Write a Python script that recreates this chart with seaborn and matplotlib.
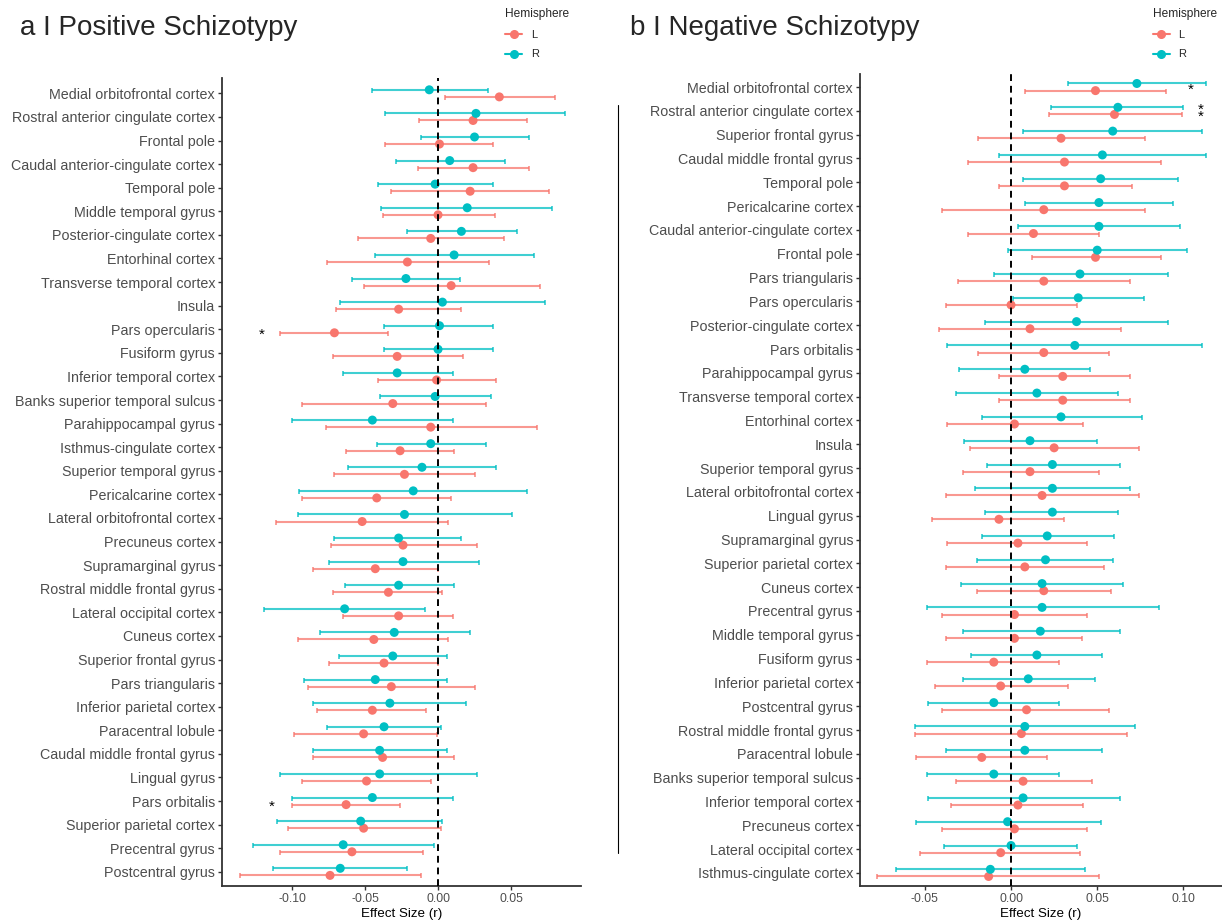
import numpy as np
import pandas as pd
import matplotlib
matplotlib.use("Agg")
import matplotlib.pyplot as plt
from matplotlib.lines import Line2D
import seaborn as sns

# ---- data: positive schizotypy (top -> bottom) ----
pos_regions = ["Medial orbitofrontal cortex", "Rostral anterior cingulate cortex", "Frontal pole",
               "Caudal anterior-cingulate cortex", "Temporal pole", "Middle temporal gyrus",
               "Posterior-cingulate cortex", "Entorhinal cortex", "Transverse temporal cortex", "Insula",
               "Pars opercularis", "Fusiform gyrus", "Inferior temporal cortex",
               "Banks superior temporal sulcus", "Parahippocampal gyrus", "Isthmus-cingulate cortex",
               "Superior temporal gyrus", "Pericalcarine cortex", "Lateral orbitofrontal cortex",
               "Precuneus cortex", "Supramarginal gyrus", "Rostral middle frontal gyrus",
               "Lateral occipital cortex", "Cuneus cortex", "Superior frontal gyrus", "Pars triangularis",
               "Inferior parietal cortex", "Paracentral lobule", "Caudal middle frontal gyrus",
               "Lingual gyrus", "Pars orbitalis", "Superior parietal cortex", "Precentral gyrus",
               "Postcentral gyrus"]
pos_L_est = [0.042, 0.024, 0.001, 0.024, 0.022, 0.000, -0.005, -0.021, 0.009, -0.027,
             -0.071, -0.028, -0.001, -0.031, -0.005, -0.026, -0.023, -0.042, -0.052, -0.024,
             -0.043, -0.034, -0.027, -0.044, -0.037, -0.032, -0.045, -0.051, -0.038, -0.049,
             -0.063, -0.051, -0.059, -0.074]
pos_L_lo = [0.005, -0.013, -0.036, -0.014, -0.032, -0.038, -0.055, -0.076, -0.051, -0.070,
            -0.108, -0.072, -0.041, -0.093, -0.077, -0.063, -0.071, -0.093, -0.111, -0.073,
            -0.086, -0.072, -0.065, -0.096, -0.075, -0.089, -0.083, -0.099, -0.086, -0.093,
            -0.100, -0.103, -0.108, -0.136]
pos_L_hi = [0.080, 0.061, 0.038, 0.062, 0.076, 0.039, 0.045, 0.035, 0.070, 0.016,
            -0.034, 0.017, 0.040, 0.033, 0.068, 0.011, 0.025, 0.009, 0.007, 0.027,
            0.000, 0.003, 0.010, 0.007, 0.000, 0.025, -0.008, -0.001, 0.011, -0.005,
            -0.026, 0.002, -0.010, -0.012]
pos_R_est = [-0.006, 0.026, 0.025, 0.008, -0.002, 0.020, 0.016, 0.011, -0.022, 0.003,
             0.001, 0.000, -0.028, -0.002, -0.045, -0.005, -0.011, -0.017, -0.023, -0.027,
             -0.024, -0.027, -0.064, -0.030, -0.031, -0.043, -0.033, -0.037, -0.040, -0.040,
             -0.045, -0.053, -0.065, -0.067]
pos_R_lo = [-0.045, -0.036, -0.012, -0.029, -0.041, -0.039, -0.021, -0.043, -0.059, -0.067,
            -0.037, -0.037, -0.065, -0.040, -0.100, -0.042, -0.062, -0.095, -0.096, -0.071,
            -0.075, -0.064, -0.119, -0.081, -0.068, -0.092, -0.086, -0.076, -0.086, -0.108,
            -0.100, -0.110, -0.127, -0.113]
pos_R_hi = [0.034, 0.087, 0.062, 0.046, 0.038, 0.078, 0.054, 0.066, 0.015, 0.073,
            0.038, 0.038, 0.010, 0.036, 0.010, 0.033, 0.040, 0.061, 0.051, 0.016,
            0.028, 0.011, -0.009, 0.022, 0.006, 0.006, 0.019, 0.002, 0.006, 0.027,
            0.010, 0.003, -0.003, -0.021]
pos_stars = [("Pars opercularis", "L", -0.121), ("Pars orbitalis", "L", -0.114)]

# ---- data: negative schizotypy (top -> bottom) ----
neg_regions = ["Medial orbitofrontal cortex", "Rostral anterior cingulate cortex", "Superior frontal gyrus",
               "Caudal middle frontal gyrus", "Temporal pole", "Pericalcarine cortex",
               "Caudal anterior-cingulate cortex", "Frontal pole", "Pars triangularis", "Pars opercularis",
               "Posterior-cingulate cortex", "Pars orbitalis", "Parahippocampal gyrus",
               "Transverse temporal cortex", "Entorhinal cortex", "Insula", "Superior temporal gyrus",
               "Lateral orbitofrontal cortex", "Lingual gyrus", "Supramarginal gyrus",
               "Superior parietal cortex", "Cuneus cortex", "Precentral gyrus", "Middle temporal gyrus",
               "Fusiform gyrus", "Inferior parietal cortex", "Postcentral gyrus",
               "Rostral middle frontal gyrus", "Paracentral lobule", "Banks superior temporal sulcus",
               "Inferior temporal cortex", "Precuneus cortex", "Lateral occipital cortex",
               "Isthmus-cingulate cortex"]
neg_L_est = [0.049, 0.060, 0.029, 0.031, 0.031, 0.019, 0.013, 0.049, 0.019, 0.000,
             0.011, 0.019, 0.030, 0.030, 0.002, 0.025, 0.011, 0.018, -0.007, 0.004,
             0.008, 0.019, 0.002, 0.002, -0.010, -0.006, 0.009, 0.006, -0.017, 0.007,
             0.004, 0.002, -0.006, -0.013]
neg_L_lo = [0.008, 0.022, -0.019, -0.025, -0.007, -0.040, -0.025, 0.012, -0.031, -0.038,
            -0.042, -0.019, -0.007, -0.007, -0.037, -0.024, -0.028, -0.038, -0.046, -0.037,
            -0.038, -0.020, -0.040, -0.038, -0.049, -0.044, -0.040, -0.056, -0.055, -0.032,
            -0.035, -0.040, -0.053, -0.078]
neg_L_hi = [0.090, 0.099, 0.078, 0.087, 0.070, 0.078, 0.051, 0.087, 0.069, 0.038,
            0.064, 0.057, 0.069, 0.069, 0.042, 0.074, 0.051, 0.074, 0.031, 0.044,
            0.054, 0.058, 0.044, 0.041, 0.028, 0.033, 0.057, 0.067, 0.021, 0.047,
            0.042, 0.044, 0.040, 0.051]
neg_R_est = [0.073, 0.062, 0.059, 0.053, 0.052, 0.051, 0.051, 0.050, 0.040, 0.039,
             0.038, 0.037, 0.008, 0.015, 0.029, 0.011, 0.024, 0.024, 0.024, 0.021,
             0.020, 0.018, 0.018, 0.017, 0.015, 0.010, -0.010, 0.008, 0.008, -0.010,
             0.007, -0.002, 0.000, -0.012]
neg_R_lo = [0.033, 0.023, 0.007, -0.007, 0.007, 0.008, 0.004, -0.002, -0.010, 0.001,
            -0.015, -0.037, -0.030, -0.032, -0.017, -0.027, -0.014, -0.021, -0.015, -0.017,
            -0.020, -0.029, -0.049, -0.028, -0.023, -0.028, -0.048, -0.056, -0.038, -0.049,
            -0.048, -0.055, -0.039, -0.067]
neg_R_hi = [0.113, 0.100, 0.111, 0.113, 0.097, 0.094, 0.098, 0.102, 0.091, 0.077,
            0.091, 0.111, 0.046, 0.062, 0.076, 0.050, 0.063, 0.069, 0.062, 0.060,
            0.059, 0.065, 0.086, 0.063, 0.053, 0.049, 0.028, 0.072, 0.053, 0.028,
            0.063, 0.052, 0.038, 0.043]
neg_stars = [("Medial orbitofrontal cortex", "M", 0.104),
             ("Rostral anterior cingulate cortex", "R", 0.110),
             ("Rostral anterior cingulate cortex", "L", 0.110)]

palette = {"L": "#F8766D", "R": "#00BFC4"}
offset = {"R": -0.15, "L": 0.15, "M": 0.03}

sns.set_style("ticks")
plt.rcParams["font.family"] = ["Liberation Sans", "DejaVu Sans"]
plt.rcParams["axes.unicode_minus"] = False


def make_df(regions, l_est, l_lo, l_hi, r_est, r_lo, r_hi):
    rows = []
    for i, reg in enumerate(regions):
        rows.append((reg, i, "L", l_est[i], l_lo[i], l_hi[i]))
        rows.append((reg, i, "R", r_est[i], r_lo[i], r_hi[i]))
    df = pd.DataFrame(rows, columns=["region", "idx", "hemi", "est", "lo", "hi"])
    df["y"] = df["idx"] + df["hemi"].map(offset)
    return df


def draw_panel(ax, df, regions, stars, xlim, xticks, ylim):
    for hemi in ["L", "R"]:
        d = df[df.hemi == hemi]
        ax.errorbar(d["est"], d["y"], xerr=[d["est"] - d["lo"], d["hi"] - d["est"]],
                    fmt="none", ecolor=palette[hemi], elinewidth=1.5, capsize=1.8,
                    capthick=1.3, alpha=0.75, zorder=2)
    sns.scatterplot(data=df, x="est", y="y", hue="hemi", palette=palette, s=42,
                    edgecolor="none", legend=False, ax=ax, zorder=3)
    ax.axvline(0, color="black", lw=1.4, ls=(0, (3.5, 2.5)), zorder=4)
    for reg, hemi, xs in stars:
        ax.text(xs, regions.index(reg) + offset[hemi] + 0.1, "*", ha="center", va="center",
                fontsize=11, color="black")
    ax.set_xlim(*xlim)
    ax.set_ylim(*ylim)
    ax.set_xticks(xticks)
    ax.set_xticklabels([f"{t:.2f}" for t in xticks], fontsize=8.8, color="#4D4D4D")
    ax.set_yticks(range(len(regions)))
    ax.set_yticklabels(regions, fontsize=10.3, color="#4D4D4D")
    ax.tick_params(axis="both", length=3, width=1, color="#333333", pad=2)
    ax.set_xlabel("Effect Size (r)", fontsize=9.6, color="black", labelpad=2)
    ax.set_ylabel("")
    sns.despine(ax=ax)
    for sp in ["left", "bottom"]:
        ax.spines[sp].set_linewidth(1.3)
        ax.spines[sp].set_color("#333333")


fig = plt.figure(figsize=(12.22, 9.21), dpi=100)
ax1 = fig.add_axes([0.1817, 0.038, 0.2938, 0.8773])
ax2 = fig.add_axes([0.7038, 0.038, 0.2962, 0.8817])

df_pos = make_df(pos_regions, pos_L_est, pos_L_lo, pos_L_hi, pos_R_est, pos_R_lo, pos_R_hi)
df_neg = make_df(neg_regions, neg_L_est, neg_L_lo, neg_L_hi, neg_R_est, neg_R_lo, neg_R_hi)

draw_panel(ax1, df_pos, pos_regions, pos_stars, (-0.148, 0.098),
           [-0.10, -0.05, 0.00, 0.05], (33.6, -0.65))
draw_panel(ax2, df_neg, neg_regions, neg_stars, (-0.0876, 0.1224),
           [-0.05, 0.00, 0.05, 0.10], (33.55, -0.55))

fig.text(0.0164, 0.9696, "a I Positive Schizotypy", fontsize=20, va="center", ha="left")
fig.text(0.5155, 0.9696, "b I Negative Schizotypy", fontsize=20, va="center", ha="left")

handles = [Line2D([], [], color=palette[h], marker="o", markersize=5.5, lw=1.5, label=h)
           for h in ["L", "R"]]
for x0 in [0.4135, 0.9435]:
    leg = fig.legend(handles=handles, title="Hemisphere", loc="upper left",
                     bbox_to_anchor=(x0, 0.991), frameon=False, fontsize=8,
                     title_fontsize=8.6, handlelength=1.5, labelspacing=0.85,
                     borderpad=0, borderaxespad=0, alignment="left")
    leg._legend_box.sep = 7

fig.add_artist(Line2D([0.5057, 0.5057], [0.074, 0.886], color="black", lw=0.8))

fig.savefig("out.png", dpi=100)
